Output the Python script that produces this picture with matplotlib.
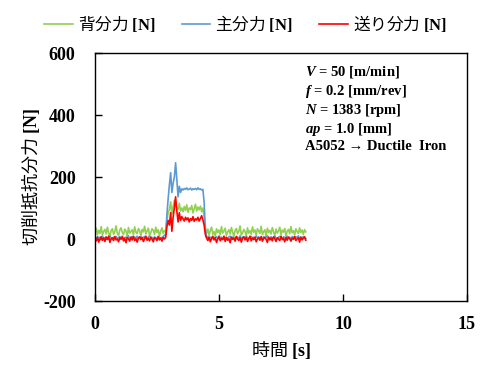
import numpy as np
import matplotlib
matplotlib.use("Agg")
import matplotlib.pyplot as plt

plt.rcParams['font.family'] = ['Noto Sans CJK JP', 'DejaVu Sans']
plt.rcParams['mathtext.fontset'] = 'custom'
plt.rcParams['mathtext.rm'] = 'Liberation Serif'
plt.rcParams['mathtext.bf'] = 'Liberation Serif:bold'
plt.rcParams['mathtext.it'] = 'Liberation Serif:italic'
plt.rcParams['mathtext.bfit'] = 'Liberation Serif:italic:bold'
plt.rcParams['axes.unicode_minus'] = False

dt = 0.05

# --- 背分力 (thrust force) [N]
back_force = [
    22, 35, 14, 28, 18, 40, 12, 25, 31, 16,
    38, 20, 9, 27, 33, 15, 24, 42, 18, 11,
    29, 36, 21, 14, 32, 26, 8, 37, 19, 24,
    30, 13, 39, 22, 17, 34, 27, 10, 31, 23,
    41, 16, 26, 35, 12, 20, 33, 28, 15, 38,
    21, 30, 11, 25, 36, 18, 27,
    25, 60, 85, 95, 120, 80, 105, 125, 110, 100,
    95, 115, 90, 100, 88, 105, 92, 110, 86, 100,
    95, 108, 84, 98, 112, 90, 103, 94, 106, 88,
    100, 70, 35,
    18, 32, 12, 27, 38, 15, 24, 9, 33, 21,
    29, 14, 40, 19, 26, 35, 11, 23, 30, 16,
    37, 22, 8, 28, 34, 17, 25, 42, 13, 20,
    31, 24, 10, 36, 19, 27, 15, 39, 22, 29,
    12, 33, 26, 18, 41, 14, 24, 30, 9, 35,
    21, 28, 16, 37, 23, 11, 32, 19, 26, 38,
    14, 29, 22, 34, 10, 25, 31, 17, 40, 20,
    27, 13, 33, 24, 18, 36, 21, 29, 15, 30,
    23,
]

# --- 主分力 (principal force) [N]
main_force = [
    5, 1, 8, 3, 6, -1, 9, 2, 4, 7,
    0, 5, 10, 3, -2, 6, 4, 8, 1, 5,
    7, 2, 9, 0, 4, 6, 3, 10, -1, 5,
    8, 2, 6, 4, 9, 1, 3, 7, 0, 5,
    8, 4, 2, 6, 10, 3, 5, -1, 7, 4,
    2, 9, 6, 1, 5, 8, 12,
    15, 80, 130, 175, 214, 150, 180, 200, 246, 190,
    136, 170, 150, 162, 158, 163, 160, 165, 159, 161,
    164, 158, 162, 160, 163, 159, 165, 160, 162, 158,
    160, 120, 30,
    4, 8, 1, 6, 3, 9, 0, 5, 7, 2,
    10, 4, 6, -1, 8, 3, 5, 1, 7, 9,
    2, 6, 4, 0, 8, 5, 3, 10, 1, 6,
    7, 2, 9, 4, 0, 5, 8, 3, 6, 1,
    9, 4, 7, 2, 5, -1, 8, 3, 6, 10,
    1, 4, 7, 2, 5, 9, 3, 0, 6, 8,
    4, 1, 7, 5, 2, 9, 3, 6, 0, 8,
    5, 2, 7, 4, 10, 1, 6, 3, 8, 5,
    2,
]

# --- 送り分力 (feed force) [N]
feed_force = [
    2, -6, 5, -10, 0, 7, -4, 3, -8, 6,
    -2, 9, -11, 1, 4, -5, 8, -3, 0, -9,
    5, -1, 7, -6, 2, -12, 4, 0, -7, 6,
    -3, 8, -5, 1, -10, 3, 7, -2, 5, -8,
    0, 9, -4, 2, -6, 6, -1, -9, 4, 1,
    -5, 7, -3, 3, -7, 5, 0,
    5, 40, 60, 45, 85, 25, 70, 100, 136, 90,
    55, 85, 60, 72, 65, 58, 70, 62, 68, 55,
    66, 60, 72, 57, 65, 61, 70, 58, 66, 75,
    62, 45, 15,
    3, -5, 6, -9, 1, 8, -3, 4, -11, 0,
    7, -6, 2, -2, 9, -8, 5, -4, 1, -12,
    6, -1, 3, -7, 8, 0, -5, 4, -10, 2,
    7, -3, 5, -8, 1, 9, -6, 3, -2, 6,
    -9, 0, 4, -4, 8, -7, 2, 5, -1, -11,
    6, -3, 3, -6, 7, 1, -8, 4, 0, -5,
    9, -2, 2, -9, 5, -4, 6, 1, -7, 3,
    -1, 8, -5, 0, 4, -10, 6, -3, 2, 7,
    -4,
]

series_labels = [r"背分力 $\mathbf{[N]}$", r"主分力 $\mathbf{[N]}$", r"送り分力 $\mathbf{[N]}$"]
series_colors = ['#92D050', '#5B9BD5', '#FF0000']

x_ticks = [0, 5, 10, 15]
y_ticks = [-200, 0, 200, 400, 600]

fig = plt.figure(figsize=(4.91, 3.78), dpi=100)
ax = fig.add_axes([95/491, 1-301/378, 372/491, 248/378])

for vals, lab, col in zip([back_force, main_force, feed_force], series_labels, series_colors):
    t = np.arange(len(vals)) * dt
    ax.plot(t, vals, color=col, lw=1.2, label=lab)

ax.set_xlim(0, 15)
ax.set_ylim(-200, 600)
ax.set_xticks(x_ticks)
ax.set_yticks(y_ticks)
ax.tick_params(direction='in', length=5, width=1, top=False, right=False)
ax.tick_params(axis='y', pad=14)
ax.tick_params(axis='x', pad=11)
for lab in ax.get_xticklabels() + ax.get_yticklabels():
    lab.set_fontfamily('Liberation Serif')
    lab.set_fontweight('bold')
    lab.set_fontsize(13)
for sp in ax.spines.values():
    sp.set_linewidth(1)
    sp.set_color('black')

ax.set_xlabel(r"時間 $\mathbf{[s]}$", fontsize=13, labelpad=4)
ax.set_ylabel(r"切削抵抗分力 $\mathbf{[N]}$", fontsize=13, labelpad=1)

info = ("$\\mathbfit{V}$ = 50 [m/min]\n"
        "$\\mathbfit{f}$ = 0.2 [mm/rev]\n"
        "$\\mathbfit{N}$ = 1383 [rpm]\n"
        "$\\mathbfit{ap}$ = 1.0 [mm]\n"
        "A5052 → Ductile  Iron")
ax.text(0.565, 0.955, info, transform=ax.transAxes, ha='left', va='top',
        family='Liberation Serif', fontweight='bold', fontsize=10.5, linespacing=1.2)

fig.legend(loc='upper center', bbox_to_anchor=(0.5, 1.005), ncol=3, frameon=False,
           fontsize=12, handlelength=1.7, handletextpad=0.3, columnspacing=1.6)

fig.savefig('out.png', dpi=100)
